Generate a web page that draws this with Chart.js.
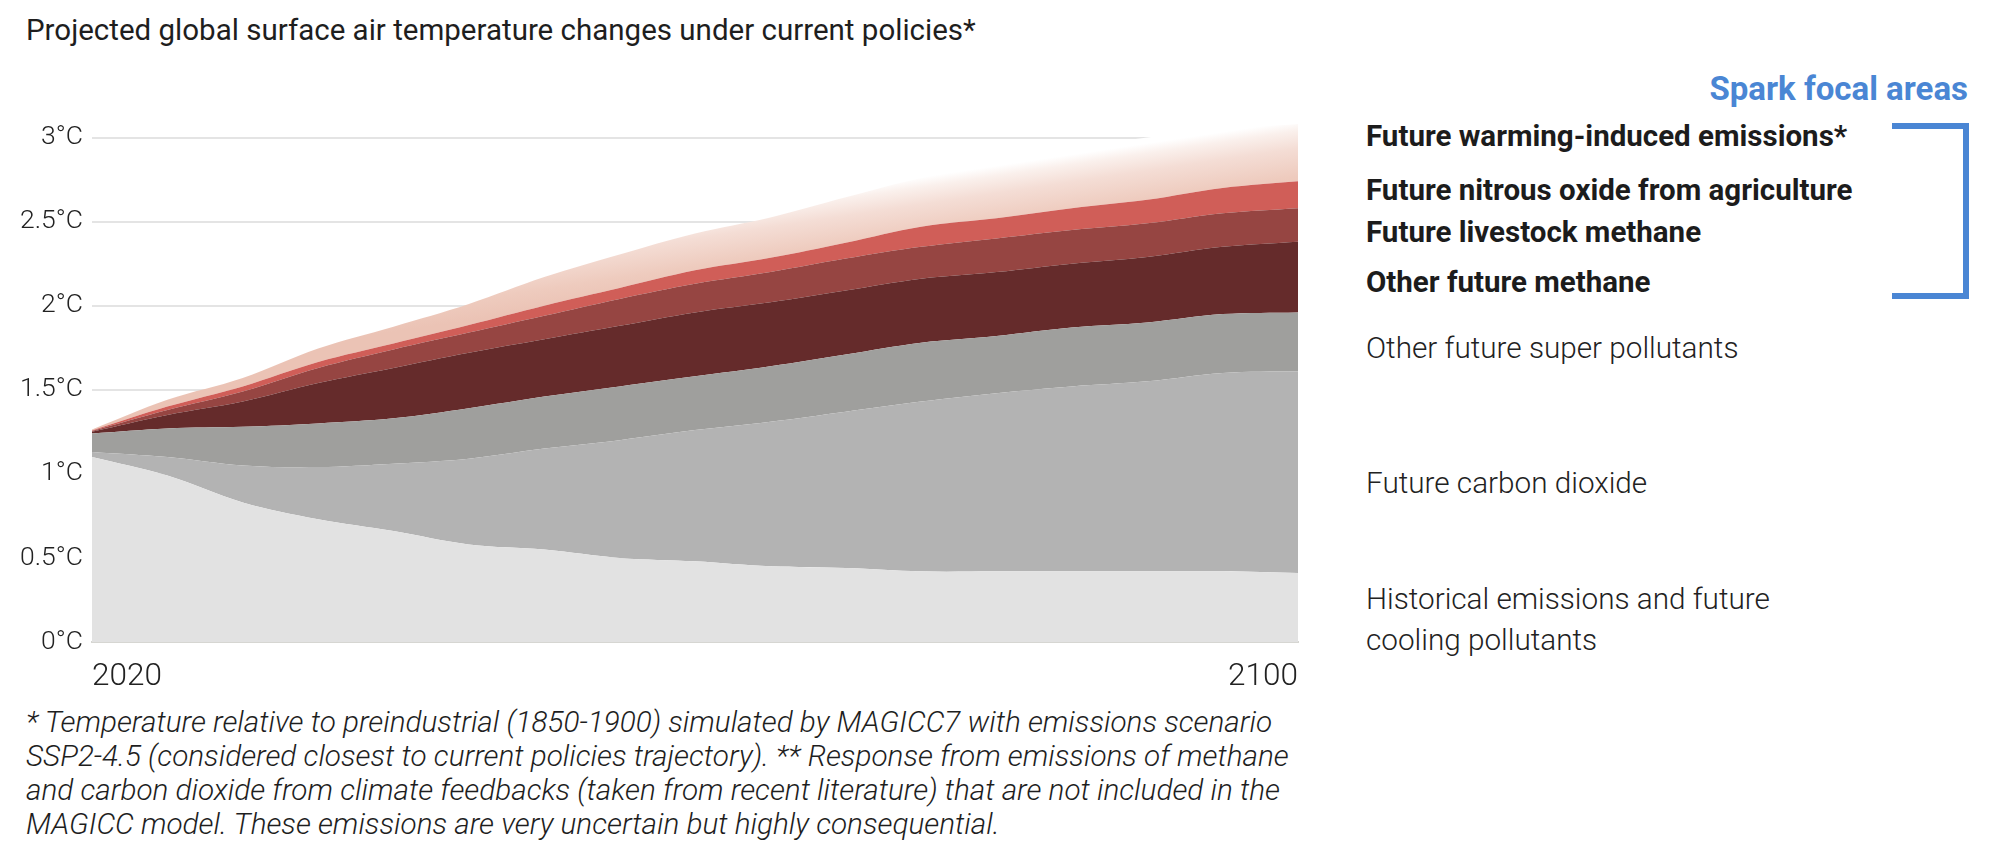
<!DOCTYPE html>
<html>
<head>
<meta charset="utf-8">
<script src="https://cdn.jsdelivr.net/npm/chart.js@4.4.1/dist/chart.umd.min.js"></script>
<style>
  body { margin: 0; background: #fff; width: 2000px; height: 859px; position: relative; overflow: hidden; font-family: Roboto, "Noto Sans", sans-serif; color: #222; }
  .abs { position: absolute; white-space: nowrap; line-height: 34px; }
  #title { left: 26px; top: 13px; font-size: 29.5px; font-weight: 400; color: #1e1e1e; }
  #chartBox { position: absolute; left: 0; top: 79px; width: 1310px; height: 623px; }
  .leg { left: 1366px; }
  .leg.b { font-weight: 700; color: #1c1c1c; font-size: 29.5px; }
  .leg.l { font-weight: 300; color: #222; font-size: 29.7px; }
  #spark { right: 32px; top: 72px; font-size: 33px; font-weight: 700; color: #4a86d4; }
  #bracket { position: absolute; left: 1892px; top: 123px; width: 77px; height: 176px; box-sizing: border-box; border: 6px solid #4a86d4; border-left: none; }
  #note { position: absolute; left: 26px; top: 705px; font-size: 29.7px; font-style: italic; font-weight: 300; line-height: 34px; color: #1e1e1e; white-space: nowrap; }
</style>
</head>
<body>
<div id="title" class="abs">Projected global surface air temperature changes under current policies*</div>
<div id="chartBox"><canvas id="tempChart"></canvas></div>

<div id="spark" class="abs">Spark focal areas</div>
<div id="bracket"></div>
<div class="abs leg b" style="top:119px">Future warming-induced emissions*</div>
<div class="abs leg b" style="top:173px">Future nitrous oxide from agriculture</div>
<div class="abs leg b" style="top:215px">Future livestock methane</div>
<div class="abs leg b" style="top:265px">Other future methane</div>
<div class="abs leg l" style="top:331px">Other future super pollutants</div>
<div class="abs leg l" style="top:466px">Future carbon dioxide</div>
<div class="abs leg l" style="top:578px; line-height:41px">Historical emissions and future<br>cooling pollutants</div>

<div id="note">* Temperature relative to preindustrial (1850-1900) simulated by MAGICC7 with emissions scenario<br>SSP2-4.5 (considered closest to current policies trajectory). ** Response from emissions of methane<br>and carbon dioxide from climate feedbacks (taken from recent literature) that are not included in the<br>MAGICC model. These emissions are very uncertain but highly consequential.</div>

<script>
// years on the x axis
const years = [2020, 2025, 2030, 2035, 2040, 2045, 2050, 2055, 2060, 2065, 2070, 2075, 2080, 2085, 2090, 2095, 2100];

// warming contribution of each layer, °C (stacked bottom to top)
const cooling          = [1.10, 0.99, 0.83, 0.73, 0.66, 0.58, 0.55, 0.50, 0.48, 0.45, 0.44, 0.42, 0.42, 0.42, 0.42, 0.42, 0.41];
const carbonDioxide    = [0.03, 0.11, 0.22, 0.31, 0.40, 0.51, 0.60, 0.70, 0.78, 0.86, 0.93, 1.01, 1.06, 1.10, 1.13, 1.18, 1.20];
const superPollutants  = [0.11, 0.17, 0.23, 0.26, 0.27, 0.30, 0.31, 0.32, 0.32, 0.33, 0.34, 0.35, 0.34, 0.35, 0.35, 0.35, 0.35];
const otherMethane     = [0.01, 0.08, 0.15, 0.24, 0.30, 0.33, 0.34, 0.36, 0.38, 0.38, 0.38, 0.38, 0.38, 0.38, 0.39, 0.40, 0.42];
const livestockMethane = [0.005, 0.03, 0.06, 0.09, 0.11, 0.12, 0.14, 0.16, 0.17, 0.18, 0.19, 0.19, 0.20, 0.20, 0.20, 0.20, 0.20];
const nitrousOxide     = [0.003, 0.02, 0.03, 0.035, 0.035, 0.045, 0.06, 0.065, 0.08, 0.085, 0.095, 0.12, 0.12, 0.13, 0.14, 0.15, 0.16];
const warmingInduced   = [0.005, 0.04, 0.05, 0.08, 0.10, 0.125, 0.17, 0.20, 0.22, 0.24, 0.27, 0.29, 0.32, 0.35, 0.37, 0.35, 0.34];

const yTicks = [0, 0.5, 1, 1.5, 2, 2.5, 3];
const xTicks = [2020, 2100];

const toPoints = arr => arr.map((v, i) => ({ x: years[i], y: v }));

// top layer fades out towards its upper right edge
function fadeFill(context) {
  const chart = context.chart;
  if (!chart.chartArea) return "#ebc3b5";
  const ex = chart.scales.x.getPixelForValue(2100);
  const ey = chart.scales.y.getPixelForValue(3.1);
  const nx = -0.148, ny = -0.989;
  const len = 75;
  const g = chart.ctx.createLinearGradient(ex - nx * len, ey - ny * len, ex, ey);
  g.addColorStop(0, "#ebc3b5");
  g.addColorStop(0.27, "#eecbbe");
  g.addColorStop(0.64, "#f4ddd5");
  g.addColorStop(0.87, "#faf0ec");
  g.addColorStop(1, "#ffffff");
  return g;
}

function layer(label, data, color, fill) {
  return {
    label: label,
    data: toPoints(data),
    backgroundColor: color,
    borderWidth: 0,
    pointRadius: 0,
    tension: 0.35,
    fill: fill
  };
}

const ctx = document.getElementById("tempChart").getContext("2d");
new Chart(ctx, {
  type: "line",
  data: {
    datasets: [
      layer("Historical emissions and future cooling pollutants", cooling, "#e2e2e2", "origin"),
      layer("Future carbon dioxide", carbonDioxide, "#b3b3b3", "-1"),
      layer("Other future super pollutants", superPollutants, "#9f9f9d", "-1"),
      layer("Other future methane", otherMethane, "#652b2b", "-1"),
      layer("Future livestock methane", livestockMethane, "#964542", "-1"),
      layer("Future nitrous oxide from agriculture", nitrousOxide, "#d05e58", "-1"),
      layer("Future warming-induced emissions*", warmingInduced, fadeFill, "-1")
    ]
  },
  options: {
    responsive: true,
    maintainAspectRatio: false,
    animation: false,
    layout: { padding: { top: 10, right: 12, left: 0, bottom: 0 } },
    plugins: {
      legend: { display: false },
      tooltip: { enabled: false }
    },
    scales: {
      x: {
        type: "linear",
        min: 2020,
        max: 2100,
        afterBuildTicks: scale => { scale.ticks = xTicks.map(v => ({ value: v })); },
        afterFit: scale => { scale.height = 60; },
        grid: { display: false },
        border: { display: true, color: "#d6d6d2", width: 2 },
        ticks: {
          align: "inner",
          padding: 8,
          maxRotation: 0,
          color: "#222",
          font: { family: "Roboto", size: 31.5, weight: 300 },
          callback: v => String(v)
        }
      },
      y: {
        stacked: true,
        min: 0,
        max: 3.2,
        afterBuildTicks: scale => { scale.ticks = yTicks.map(v => ({ value: v })); },
        afterFit: scale => { scale.width = 92; },
        grid: { color: "#e4e4e4", lineWidth: 2, drawTicks: false },
        border: { display: false },
        ticks: {
          padding: 9,
          color: "#222",
          font: { family: "Roboto", size: 26.5, weight: 300 },
          callback: v => v + "°C"
        }
      }
    }
  }
});
</script>
</body>
</html>
